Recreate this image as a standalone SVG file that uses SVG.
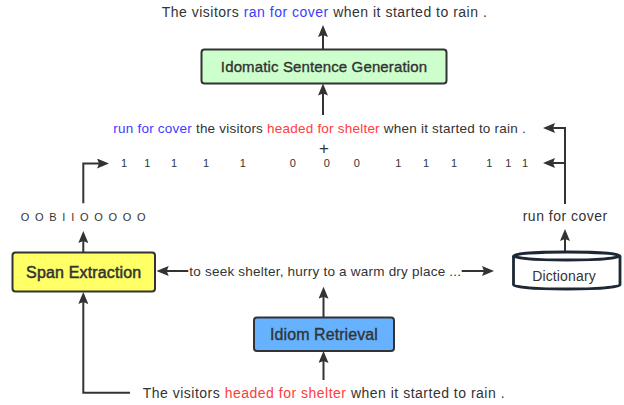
<svg xmlns="http://www.w3.org/2000/svg" width="624" height="405" viewBox="0 0 624 405">
<style>
  text { font-family: "Liberation Sans", Arial, sans-serif; fill: #333333; }
  .t14 { font-size: 14px; letter-spacing: 0.5px; }
  .t135 { font-size: 13.5px; letter-spacing: 0.22px; }
  .dig { font-size: 11px; text-anchor: middle; }
  .lbl { text-anchor: middle; stroke: #333333; stroke-width: 0.35px; }
  .blue { fill: #3c3cff; }
  .red { fill: #ff3b3b; }
  .box { stroke: #333333; stroke-width: 2; }
  .conn { fill: none; stroke: #333333; stroke-width: 2; marker-end: url(#arr); }
</style>
<defs>
  <marker id="arr" markerUnits="userSpaceOnUse" viewBox="0 0 12 10" markerWidth="12" markerHeight="10" refX="8" refY="5" orient="auto">
    <path d="M0,0 L12,5 L0,10 L2,5 Z" fill="#333333"/>
  </marker>
</defs>
<rect width="624" height="405" fill="#ffffff"/>

<g id="connectors">
  <path class="conn" d="M323,49 V29"/>
  <path class="conn" d="M323,115 V87.5"/>
  <path class="conn" d="M565,204 V128 H547"/>
  <path class="conn" d="M565,163 H547"/>
  <path class="conn" d="M83.3,203.3 V163.5 H105"/>
  <path class="conn" d="M83.3,252 V235"/>
  <path class="conn" d="M130,392.7 H83.3 V296"/>
  <path class="conn" d="M188.3,271 H160.7"/>
  <path class="conn" d="M461.7,271 H490"/>
  <path class="conn" d="M323.5,317 V290.7"/>
  <path class="conn" d="M323.5,380 V355"/>
  <path class="conn" d="M565,252 V233"/>
</g>

<g id="output-sentence">
  <text class="t14" x="161.7" y="17">The visitors <tspan class="blue">ran for cover</tspan> when it started to rain .</text>
</g>

<g id="idiomatic-sentence-generation">
  <rect class="box" x="201.5" y="49.5" width="245" height="34" rx="3" fill="#ccffcc"/>
  <text class="lbl" x="324" y="72" font-size="15" letter-spacing="0.13">Idomatic Sentence Generation</text>
</g>

<g id="combined-sentence">
  <text class="t135" x="113.3" y="133.3"><tspan class="blue">run for cover</tspan> the visitors <tspan class="red">headed for shelter</tspan> when it started to rain .</text>
  <text x="324" y="153.6" font-size="17" text-anchor="middle">+</text>
</g>

<g id="mask-bits">
  <text class="dig" x="124" y="166.7">1</text>
  <text class="dig" x="147.3" y="166.7">1</text>
  <text class="dig" x="174" y="166.7">1</text>
  <text class="dig" x="206" y="166.7">1</text>
  <text class="dig" x="242.7" y="166.7">1</text>
  <text class="dig" x="292.7" y="166.7">0</text>
  <text class="dig" x="326.7" y="166.7">0</text>
  <text class="dig" x="356.7" y="166.7">0</text>
  <text class="dig" x="398.3" y="166.7">1</text>
  <text class="dig" x="426" y="166.7">1</text>
  <text class="dig" x="454" y="166.7">1</text>
  <text class="dig" x="489.3" y="166.7">1</text>
  <text class="dig" x="508.3" y="166.7">1</text>
  <text class="dig" x="525" y="166.7">1</text>
</g>

<g id="bio-tags">
  <text x="20.7" y="221" font-size="11" letter-spacing="1.34">O O B I I O O O O O</text>
</g>

<g id="idiom-label">
  <text class="t14" x="522.7" y="220.7">run for cover</text>
</g>

<g id="span-extraction">
  <rect class="box" x="12.5" y="252.5" width="142.5" height="39" rx="3" fill="#ffff66"/>
  <text class="lbl" x="83.7" y="278.3" font-size="16" letter-spacing="0.15" style="stroke-width:0.5px">Span Extraction</text>
</g>

<g id="definition">
  <text class="t135" x="189.3" y="275.7" letter-spacing="0.18">to seek shelter, hurry to a warm dry place ...</text>
</g>

<g id="dictionary">
  <path d="M513.5,256 V285 A53.25,4 0 0 0 620,285 V256" fill="#ffffff" stroke="#1c2836" stroke-width="2.8"/>
  <ellipse cx="566.75" cy="256" rx="53.25" ry="4" fill="#ffffff" stroke="#1c2836" stroke-width="2.8"/>
  <text x="564" y="281" font-size="14" letter-spacing="0.15" text-anchor="middle">Dictionary</text>
</g>

<g id="idiom-retrieval">
  <rect class="box" x="254" y="317.5" width="140" height="33.5" rx="3" fill="#66b2ff"/>
  <text class="lbl" x="324" y="340" font-size="16" letter-spacing="0.07">Idiom Retrieval</text>
</g>

<g id="input-sentence">
  <text class="t14" x="142.7" y="398.3">The visitors <tspan class="red">headed for shelter</tspan> when it started to rain .</text>
</g>
</svg>
